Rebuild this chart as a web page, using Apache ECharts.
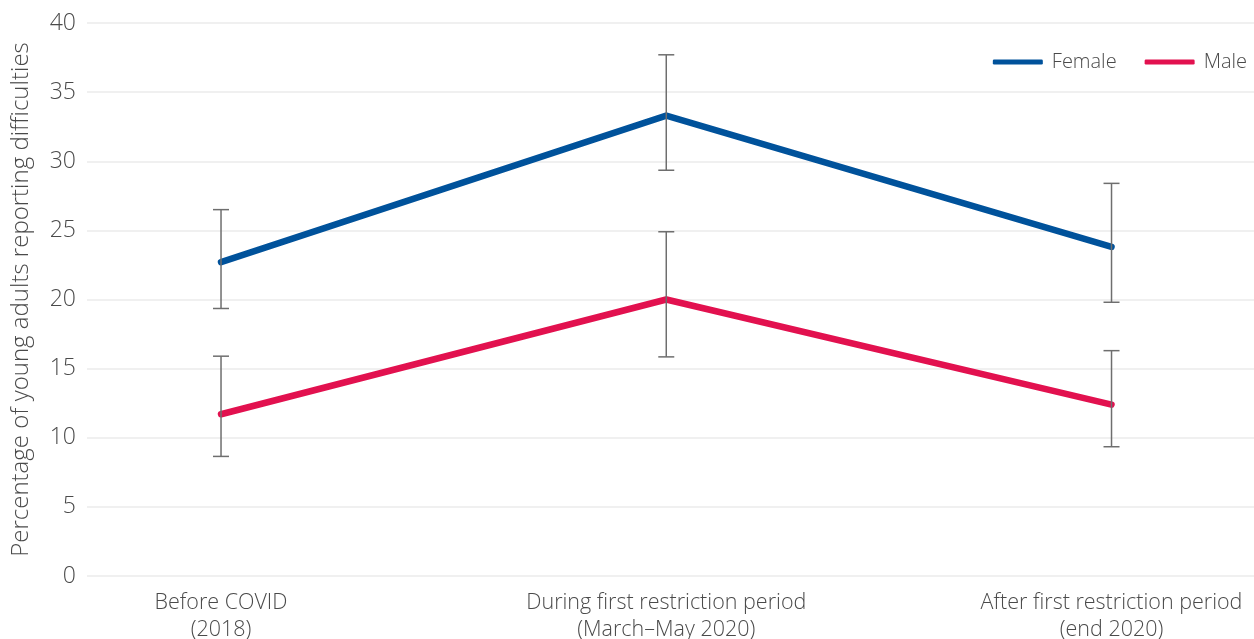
<!DOCTYPE html>
<html>
<head>
<meta charset="utf-8">
<script src="https://cdn.jsdelivr.net/npm/echarts@6/dist/echarts.min.js"></script>
<style>
  html, body { margin: 0; padding: 0; background: #fff; }
  #chart { width: 1254px; height: 639px; }
</style>
</head>
<body>
<div id="chart"></div>
<script>
// Periods on the horizontal axis
const periods = ['Before COVID\n(2018)', 'During first restriction period\n(March\u2013May 2020)', 'After first restriction period\n(end 2020)'];

// Share of young adults reporting difficulties (%)
const femaleValues = [22.7, 33.3, 23.8];
const femaleLow = [19.35, 29.35, 19.8];
const femaleHigh = [26.5, 37.7, 28.4];

const maleValues = [11.7, 20.0, 12.4];
const maleLow = [8.65, 15.85, 9.35];
const maleHigh = [15.9, 24.9, 16.3];

const yTicks = [0, 5, 10, 15, 20, 25, 30, 35, 40];

const FONT = '"Open Sans"';
const TEXT = '#4a4a4a';

const toPoints = vals => vals.map((v, i) => [i, v]);
const toBars = (lo, hi) => lo.map((l, i) => [i, l, hi[i]]);

function errorBar(params, api) {
  const x = api.value(0);
  const lo = api.coord([x, api.value(1)]);
  const hi = api.coord([x, api.value(2)]);
  const half = 8;
  const style = { stroke: '#6e6e6e', lineWidth: 1.5 };
  return {
    type: 'group',
    children: [
      { type: 'line', shape: { x1: lo[0], y1: lo[1], x2: hi[0], y2: hi[1] }, style },
      { type: 'line', shape: { x1: hi[0] - half, y1: hi[1], x2: hi[0] + half, y2: hi[1] }, style },
      { type: 'line', shape: { x1: lo[0] - half, y1: lo[1], x2: lo[0] + half, y2: lo[1] }, style }
    ]
  };
}

const chart = echarts.init(document.getElementById('chart'), null, { renderer: 'canvas' });

chart.setOption({
  animation: false,
  backgroundColor: '#ffffff',
  textStyle: { fontFamily: FONT },
  grid: { left: 87, right: 0, top: 23, bottom: 63, outerBoundsMode: 'none', containLabel: false },
  legend: {
    top: 47,
    right: 2,
    icon: 'roundRect',
    itemWidth: 50,
    itemHeight: 5,
    itemGap: 28,
    textStyle: { fontFamily: FONT, fontSize: 20, fontWeight: 300, color: TEXT, padding: [0, 0, 0, 4] },
    data: ['Female', 'Male']
  },
  xAxis: {
    type: 'value',
    min: -0.301,
    max: 2.32,
    splitLine: { show: false },
    axisLine: { show: false },
    axisTick: { show: false },
    axisLabel: {
      margin: 13,
      fontFamily: FONT,
      fontSize: 21.5,
      fontWeight: 300,
      color: TEXT,
      lineHeight: 27,
      showMinLabel: false,
      showMaxLabel: false,
      formatter: v => {
        const r = Math.round(v);
        return Math.abs(v - r) < 1e-6 && periods[r] !== undefined ? periods[r] : '';
      }
    }
  },
  yAxis: {
    type: 'value',
    min: yTicks[0],
    max: yTicks[yTicks.length - 1],
    interval: 5,
    name: 'Percentage of young adults reporting difficulties',
    nameLocation: 'middle',
    nameGap: 54,
    nameTextStyle: { fontFamily: FONT, fontSize: 24, fontWeight: 300, color: TEXT },
    axisLine: { show: false },
    axisTick: { show: false },
    axisLabel: { margin: 11, fontFamily: FONT, fontSize: 23, fontWeight: 300, color: TEXT },
    splitLine: { lineStyle: { color: '#ebebeb', width: 1.5 } }
  },
  series: [
    {
      name: 'Female',
      type: 'line',
      data: toPoints(femaleValues),
      symbol: 'none',
      color: '#00529b',
      lineStyle: { width: 6.5, cap: 'round', join: 'round' },
      z: 3
    },
    {
      name: 'Male',
      type: 'line',
      data: toPoints(maleValues),
      symbol: 'none',
      color: '#e2114f',
      lineStyle: { width: 6.5, cap: 'round', join: 'round' },
      z: 3
    },
    {
      name: 'Female range',
      type: 'custom',
      renderItem: errorBar,
      data: toBars(femaleLow, femaleHigh),
      encode: { x: 0, y: [1, 2] },
      z: 4
    },
    {
      name: 'Male range',
      type: 'custom',
      renderItem: errorBar,
      data: toBars(maleLow, maleHigh),
      encode: { x: 0, y: [1, 2] },
      z: 4
    }
  ]
});
</script>
</body>
</html>
